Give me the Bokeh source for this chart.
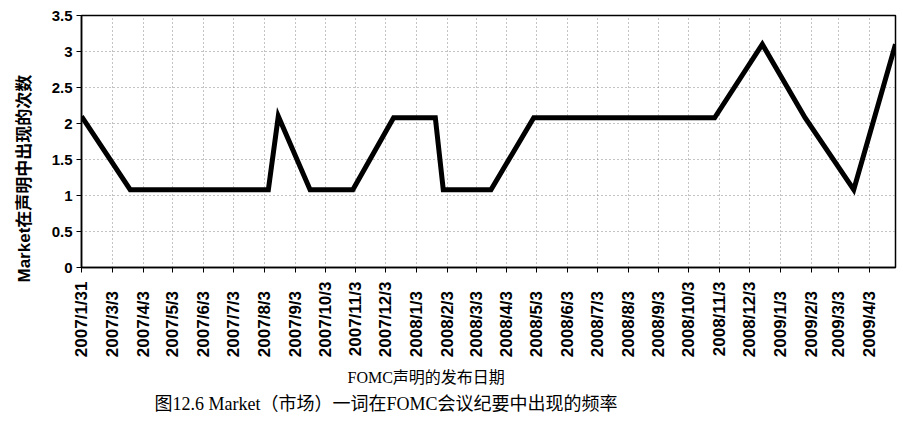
import datetime as dt
from bokeh.plotting import figure
from bokeh.models import Range1d, FixedTicker, CustomJSTickFormatter, Title
from bokeh.embed import file_html
from bokeh.resources import INLINE

# FOMC statement dates and number of times "Market" appears
meeting_dates = [
    "2007-01-31", "2007-03-21", "2007-05-09", "2007-06-28", "2007-08-07",
    "2007-08-17", "2007-09-18", "2007-10-31", "2007-12-11", "2008-01-22",
    "2008-01-30", "2008-03-11", "2008-03-18", "2008-04-30", "2008-06-25",
    "2008-08-05", "2008-09-16", "2008-10-08", "2008-10-29", "2008-12-16",
    "2009-01-28", "2009-03-18", "2009-04-29",
]
mentions = [
    2.1, 1.08, 1.08, 1.08, 1.08,
    2.1, 1.08, 1.08, 2.08, 2.08,
    1.08, 1.08, 1.08, 2.08, 2.08,
    2.08, 2.08, 2.08, 2.08, 3.1,
    2.08, 1.08, 3.1,
]

tick_dates = [
    "2007-01-31", "2007-03-03", "2007-04-03", "2007-05-03", "2007-06-03",
    "2007-07-03", "2007-08-03", "2007-09-03", "2007-10-03", "2007-11-03",
    "2007-12-03", "2008-01-03", "2008-02-03", "2008-03-03", "2008-04-03",
    "2008-05-03", "2008-06-03", "2008-07-03", "2008-08-03", "2008-09-03",
    "2008-10-03", "2008-11-03", "2008-12-03", "2009-01-03", "2009-02-03",
    "2009-03-03", "2009-04-03",
]
y_ticks = [0, 0.5, 1, 1.5, 2, 2.5, 3, 3.5]
y_tick_labels = ["0", "0.5", "1", "1.5", "2", "2.5", "3", "3.5"]

y_label = "Market在声明中出现的次数"
x_label = "FOMC声明的发布日期"
caption = "图12.6 Market（市场）一词在FOMC会议纪要中出现的频率"


def to_dt(s):
    return dt.datetime.strptime(s, "%Y-%m-%d")


def to_ms(s):
    return (to_dt(s) - dt.datetime(1970, 1, 1)).total_seconds() * 1000.0


xs = [to_dt(d) for d in meeting_dates]

p = figure(
    width=903, height=431,
    x_axis_type="datetime",
    x_range=Range1d(xs[0], xs[-1]),
    y_range=Range1d(0, 3.5),
    output_backend="svg", toolbar_location=None,
    min_border_left=81, min_border_right=8, min_border_top=15, min_border_bottom=164,
    background_fill_color="white", border_fill_color="white",
)
p.outline_line_color = "black"
p.outline_line_width = 1.5

p.line(xs, mentions, line_width=5, line_color="black", line_join="miter")

# x axis
xa = p.xaxis[0]
xa.ticker = FixedTicker(ticks=[to_ms(d) for d in tick_dates])
xa.formatter = CustomJSTickFormatter(code="""
const d = new Date(tick);
const s = d.getUTCFullYear() + "/" + (d.getUTCMonth() + 1) + "/" + d.getUTCDate();
return s.length < 9 ? s + "\\u2007" : s;
""")
xa.major_label_orientation = 3.14159265 / 2
xa.major_label_text_font = "Liberation Sans"
xa.major_label_text_font_size = "17px"
xa.major_label_text_font_style = "bold"
xa.major_label_text_color = "black"
xa.major_label_standoff = 9
xa.major_tick_in = 0
xa.major_tick_out = 5
xa.minor_tick_line_color = None
xa.axis_line_width = 1.5
xa.axis_line_color = "black"
xa.major_tick_line_color = "black"

# y axis
ya = p.yaxis[0]
ya.ticker = FixedTicker(ticks=y_ticks)
ya.major_label_overrides = {t: l for t, l in zip(y_ticks, y_tick_labels)}
ya.major_label_text_font = "Liberation Sans"
ya.major_label_text_font_size = "15px"
ya.major_label_text_font_style = "bold"
ya.major_label_text_color = "black"
ya.major_label_standoff = 4
ya.major_tick_in = 0
ya.major_tick_out = 5
ya.minor_tick_line_color = None
ya.axis_line_width = 1.5
ya.axis_line_color = "black"
ya.major_tick_line_color = "black"

for g in (p.xgrid[0], p.ygrid[0]):
    g.grid_line_color = "#888888"
    g.grid_line_dash = "1 3"
    g.grid_line_width = 1

p.add_layout(Title(text=x_label, align="left", offset=266, standoff=12,
                   text_font="Liberation Serif, Noto Sans CJK SC",
                   text_font_size="16px", text_font_style="normal",
                   text_color="black"), "below")
p.add_layout(Title(text=caption, align="left", offset=73, standoff=0,
                   text_font="Liberation Serif, Noto Sans CJK SC",
                   text_font_size="18px", text_font_style="normal",
                   text_color="black"), "below")
p.add_layout(Title(text=y_label, align="left", offset=-15, standoff=26,
                   vertical_align="top",
                   text_font="Liberation Sans, Noto Sans CJK SC",
                   text_font_size="17px", text_font_style="bold",
                   text_color="black"), "left")

open("out.html", "w").write(file_html(p, INLINE))
